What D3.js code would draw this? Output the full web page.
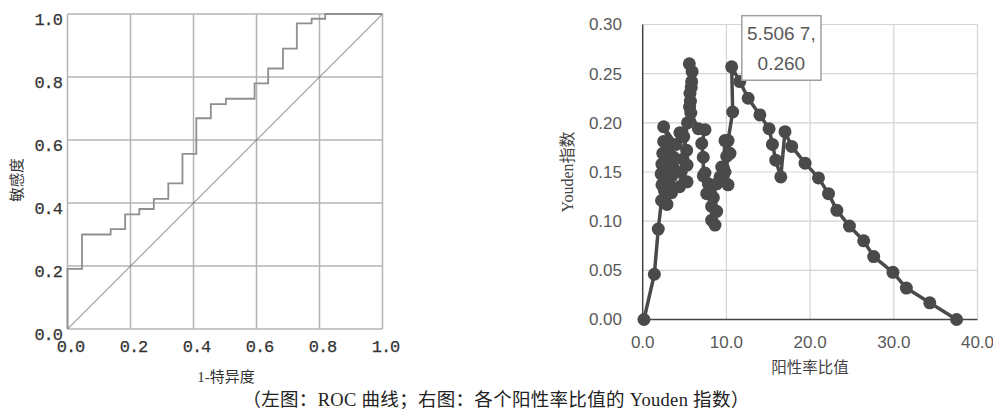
<!DOCTYPE html>
<html><head><meta charset="utf-8">
<script src="https://cdn.jsdelivr.net/npm/d3@7"></script>
<style>
body{margin:0;background:#fff;}
svg{display:block;}
</style></head>
<body>
<svg id="c" width="993" height="412"></svg>
<script>
// ---------- Left chart: ROC curve ----------
const rocFpr  = [0, 0, 0.046, 0.046, 0.137, 0.137, 0.183, 0.183, 0.228, 0.228, 0.274, 0.274, 0.320, 0.320, 0.365, 0.365, 0.409, 0.409, 0.455, 0.455, 0.503, 0.503, 0.594, 0.594, 0.637, 0.637, 0.684, 0.684, 0.728, 0.728, 0.775, 0.775, 0.818, 0.818, 1.0];
const rocSens = [0, 0.191, 0.191, 0.300, 0.300, 0.317, 0.317, 0.364, 0.364, 0.381, 0.381, 0.413, 0.413, 0.462, 0.462, 0.556, 0.556, 0.669, 0.669, 0.714, 0.714, 0.731, 0.731, 0.780, 0.780, 0.827, 0.827, 0.890, 0.890, 0.970, 0.970, 0.985, 0.985, 1.0, 1.0];
const rocTicks = [0, 0.2, 0.4, 0.6, 0.8, 1.0];
const rocTickLabels = ["0.0", "0.2", "0.4", "0.6", "0.8", "1.0"];

// ---------- Right chart: Youden index vs positive likelihood ratio ----------
const lrValues = [0.15, 1.39, 1.86, 2.25, 2.9, 3.45, 2.6, 2.3, 3.1, 2.2, 2.8, 3.5, 2.3, 2.9, 3.6, 2.4, 3.0, 3.7, 2.5, 3.3, 2.5,
  4.0, 4.45, 4.9, 5.25, 4.8, 5.3, 4.6, 5.3, 4.4, 5.35,
  5.6, 5.65, 5.85, 5.57, 5.9, 5.8, 5.7, 5.75, 6.65, 7.44, 7.05, 7.24, 7.24, 7.44, 7.65, 7.84, 8.04, 8.24, 8.24, 8.64, 8.84, 8.44, 8.84, 9.24, 9.44, 9.83, 10.04, 10.2, 9.63, 9.83, 10.43, 10.2,
  10.75, 10.63, 11.6, 12.6, 14.0, 15.1, 15.5, 15.9, 16.5, 17.0, 17.8, 19.4, 21.0, 22.2, 23.2, 24.7, 26.4, 27.6, 29.9, 31.5, 34.3, 37.5];
const youdenValues = [0.000, 0.046, 0.092, 0.121, 0.117, 0.129, 0.131, 0.137, 0.140, 0.148, 0.150, 0.146, 0.158, 0.161, 0.155, 0.169, 0.172, 0.165, 0.181, 0.178, 0.196,
  0.178, 0.190, 0.186, 0.172, 0.163, 0.157, 0.150, 0.140, 0.135, 0.200,
  0.216, 0.230, 0.242, 0.260, 0.252, 0.236, 0.222, 0.210, 0.194, 0.193, 0.179, 0.165, 0.146, 0.149, 0.128, 0.138, 0.128, 0.115, 0.101, 0.096, 0.110, 0.124, 0.138, 0.145, 0.155, 0.150, 0.166, 0.137, 0.154, 0.182, 0.169, 0.182,
  0.211, 0.257, 0.242, 0.225, 0.208, 0.194, 0.178, 0.162, 0.145, 0.191, 0.176, 0.159, 0.144, 0.128, 0.111, 0.095, 0.080, 0.064, 0.048, 0.032, 0.017, 0.000];
const youdenYTicks = [0, 0.05, 0.10, 0.15, 0.20, 0.25, 0.30];
const youdenXTicks = [0, 10, 20, 30, 40];
const calloutLines = ["5.506 7,", "0.260"];

const leftYTitle = "敏感度";
const leftXTitle = "1-特异度";
const rightYTitle = "Youden指数";
const rightXTitle = "阳性率比值";
const caption = "（左图：ROC 曲线；右图：各个阳性率比值的 Youden 指数）";

const svg = d3.select("#c");

// ===== Left chart =====
const lx = d3.scaleLinear().domain([0, 1]).range([67.5, 382.5]);
const ly = d3.scaleLinear().domain([0, 1]).range([329, 14]);
const L = svg.append("g");

L.selectAll("line.gx").data(rocTicks).join("line")
  .attr("x1", d => lx(d)).attr("x2", d => lx(d)).attr("y1", ly(0)).attr("y2", ly(1))
  .attr("stroke", "#b4b4b4").attr("stroke-width", 1.5);
L.selectAll("line.gy").data(rocTicks).join("line")
  .attr("y1", d => ly(d)).attr("y2", d => ly(d)).attr("x1", lx(0)).attr("x2", lx(1))
  .attr("stroke", "#b4b4b4").attr("stroke-width", 1.5);

// diagonal
L.append("line").attr("x1", lx(0)).attr("y1", ly(0)).attr("x2", lx(1)).attr("y2", ly(1))
  .attr("stroke", "#666").attr("stroke-width", 1);

// ROC step line
const rocPts = rocFpr.map((f, i) => [f, rocSens[i]]);
L.append("path").datum(rocPts)
  .attr("d", d3.line().x(d => lx(d[0])).y(d => ly(d[1])))
  .attr("fill", "none").attr("stroke", "#8f8f8f").attr("stroke-width", 1.8);

// tick labels
L.selectAll("text.yl").data(rocTicks).join("text")
  .attr("x", 62).attr("y", d => ly(d) + 5).attr("dy", "0.35em")
  .attr("text-anchor", "end")
  .attr("font-family", "Liberation Mono, monospace").attr("font-size", 17)
  .attr("letter-spacing", -1).attr("fill", "#333").attr("stroke", "#333").attr("stroke-width", 0.25)
  .text((d, i) => rocTickLabels[i]);
L.selectAll("text.xl").data(rocTicks).join("text")
  .attr("x", d => lx(d) + 3).attr("y", 346).attr("dy", "0.35em")
  .attr("text-anchor", "middle")
  .attr("font-family", "Liberation Mono, monospace").attr("font-size", 17)
  .attr("letter-spacing", -1).attr("fill", "#333").attr("stroke", "#333").attr("stroke-width", 0.25)
  .text((d, i) => rocTickLabels[i]);

L.append("text").attr("transform", "translate(17,180) rotate(-90)")
  .attr("text-anchor", "middle").attr("dy", "0.35em")
  .attr("font-family", "Noto Sans CJK SC").attr("font-size", 14.5).attr("fill", "#333")
  .text(leftYTitle);
L.append("text").attr("x", 226).attr("y", 377).attr("dy", "0.35em")
  .attr("text-anchor", "middle")
  .attr("font-family", "Liberation Serif, Noto Sans CJK SC").attr("font-size", 15).attr("fill", "#333")
  .text(leftXTitle);

// ===== Right chart =====
const rx = d3.scaleLinear().domain([0, 40]).range([642.7, 977.5]);
const ry = d3.scaleLinear().domain([0, 0.3]).range([319.5, 24.5]);
const R = svg.append("g");

R.selectAll("line.gx").data(youdenXTicks.slice(1)).join("line")
  .attr("x1", d => rx(d)).attr("x2", d => rx(d)).attr("y1", ry(0)).attr("y2", ry(0.3))
  .attr("stroke", "#d4d4d4").attr("stroke-width", 1.2);
R.selectAll("line.gy").data(youdenYTicks.slice(1)).join("line")
  .attr("y1", d => ry(d)).attr("y2", d => ry(d)).attr("x1", rx(0)).attr("x2", rx(40))
  .attr("stroke", "#d4d4d4").attr("stroke-width", 1.2);
// axes
R.append("line").attr("x1", rx(0)).attr("x2", rx(0)).attr("y1", ry(0)).attr("y2", ry(0.3))
  .attr("stroke", "#444").attr("stroke-width", 1.5);
R.append("line").attr("x1", rx(0)).attr("x2", rx(40)).attr("y1", ry(0)).attr("y2", ry(0))
  .attr("stroke", "#444").attr("stroke-width", 1.5);

R.selectAll("text.yl").data(youdenYTicks).join("text")
  .attr("x", 622).attr("y", d => ry(d)).attr("dy", "0.35em")
  .attr("text-anchor", "end")
  .attr("font-family", "Liberation Sans, Arial, sans-serif").attr("font-size", 17)
  .attr("fill", "#595959")
  .text(d => d.toFixed(2));
R.selectAll("text.xl").data(youdenXTicks).join("text")
  .attr("x", d => rx(d)).attr("y", 342).attr("dy", "0.35em")
  .attr("text-anchor", "middle")
  .attr("font-family", "Liberation Sans, Arial, sans-serif").attr("font-size", 17)
  .attr("fill", "#595959")
  .text(d => d.toFixed(1));

const yPts = lrValues.map((v, i) => [v, youdenValues[i]]);
R.append("path").datum(yPts)
  .attr("d", d3.line().x(d => rx(d[0])).y(d => ry(d[1])))
  .attr("fill", "none").attr("stroke", "#4a4a4a").attr("stroke-width", 3.5)
  .attr("stroke-linejoin", "round");
R.selectAll("circle").data(yPts).join("circle")
  .attr("cx", d => rx(d[0])).attr("cy", d => ry(d[1])).attr("r", 6.5)
  .attr("fill", "#4a4a4a");

// callout box
const bx = rx(11.84), by = ry(0.309), bw = rx(21.3) - rx(11.84), bh = ry(0.2433) - ry(0.309);
R.append("rect").attr("x", bx).attr("y", by).attr("width", bw).attr("height", bh)
  .attr("fill", "#fff").attr("stroke", "#a0a0a0").attr("stroke-width", 1.5);
R.selectAll("text.cl").data(calloutLines).join("text")
  .attr("x", bx + bw / 2).attr("y", (d, i) => by + 18 + i * 30).attr("dy", "0.35em")
  .attr("text-anchor", "middle")
  .attr("font-family", "Liberation Sans, Arial, sans-serif").attr("font-size", 19)
  .attr("fill", "#595959")
  .text(d => d);

R.append("text").attr("transform", "translate(567,172) rotate(-90)")
  .attr("text-anchor", "middle").attr("dy", "0.35em")
  .attr("font-family", "Liberation Serif, Noto Sans CJK SC").attr("font-size", 16).attr("fill", "#444")
  .text(rightYTitle);
R.append("text").attr("x", 810).attr("y", 368).attr("dy", "0.35em")
  .attr("text-anchor", "middle")
  .attr("font-family", "Noto Sans CJK SC").attr("font-size", 15.5).attr("fill", "#444")
  .text(rightXTitle);

// caption
svg.append("text").attr("x", 496).attr("y", 400).attr("dy", "0.35em")
  .attr("text-anchor", "middle")
  .attr("font-family", "Liberation Serif, Noto Sans CJK SC").attr("font-size", 18.5)
  .attr("letter-spacing", 0.3).attr("fill", "#222")
  .text(caption);
</script>
</body></html>
